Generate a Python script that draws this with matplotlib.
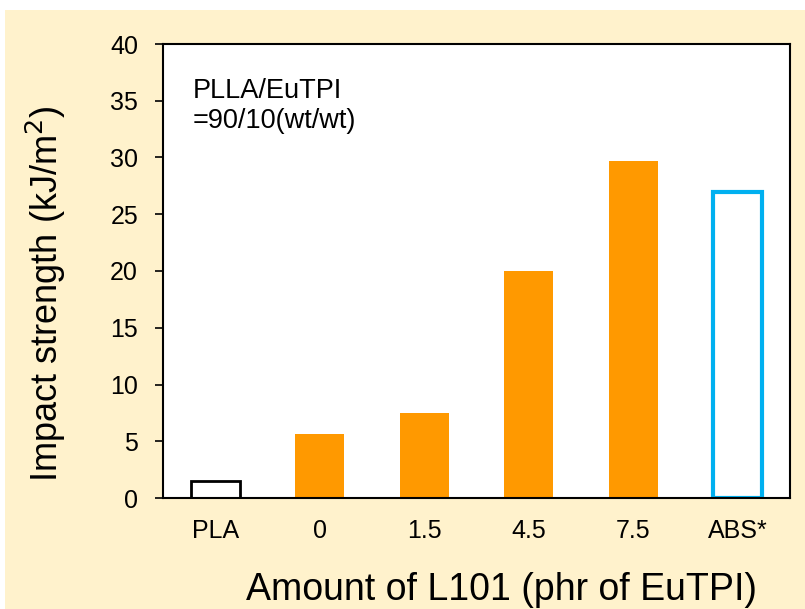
import matplotlib.pyplot as plt
from matplotlib.patches import Rectangle

plt.rcParams['font.family'] = ['Liberation Sans', 'DejaVu Sans']

# data
categories = ['PLA', '0', '1.5', '4.5', '7.5', 'ABS*']
impact = [1.5, 5.6, 7.5, 20.0, 29.7, 27.0]
faces = ['white', '#FF9900', '#FF9900', '#FF9900', '#FF9900', 'white']
edges = ['black', '#FF9900', '#FF9900', '#FF9900', '#FF9900', '#00B0F0']
lws = [2.0, 0, 0, 0, 0, 3.0]

fig = plt.figure(figsize=(8.05, 6.09), dpi=100)
fig.patch.set_facecolor('white')
# cream panel behind everything
fig.patches.append(Rectangle((5 / 805, 0), 1, 1 - 10 / 609, transform=fig.transFigure,
                             facecolor='#FFF2CC', edgecolor='none', zorder=-10))

ax = fig.add_axes([163 / 805, 1 - 498 / 609, 627 / 805, 454 / 609])
ax.set_facecolor('white')

x = range(len(categories))
ax.bar(x, impact, width=0.47, color=faces, edgecolor=edges, linewidth=lws)

ax.set_xlim(-0.5, 5.5)
ax.set_ylim(0, 40)
ax.set_yticks(range(0, 41, 5))
ax.set_xticks(list(x))
ax.set_xticklabels(categories)
ax.tick_params(axis='x', length=0, pad=15, labelsize=18)
ax.tick_params(axis='y', direction='out', length=6, width=1.2, pad=12, labelsize=18)
for s in ax.spines.values():
    s.set_linewidth(1.5)
    s.set_color('black')

ax.set_ylabel('Impact strength (kJ/m$^2$)', fontsize=26)
ax.yaxis.set_label_coords(-0.152, 0.45)
ax.set_xlabel('Amount of L101 (phr of EuTPI)', fontsize=27)
ax.xaxis.set_label_coords(0.54, -0.163)

ax.text(0.048, 0.925, 'PLLA/EuTPI\n=90/10(wt/wt)', transform=ax.transAxes,
        fontsize=19.5, va='top', ha='left', linespacing=1.2)

fig.savefig('out.png', dpi=100, facecolor=fig.get_facecolor())
